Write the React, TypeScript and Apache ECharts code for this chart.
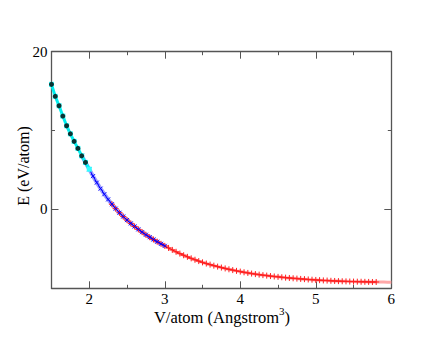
import React, { useEffect, useRef } from "react";
import * as echarts from "echarts";

const volume = [
  1.5, 1.55, 1.6, 1.65, 1.7, 1.75, 1.8, 1.85, 1.9, 1.95,
  2.0, 2.05, 2.1, 2.15, 2.2, 2.25, 2.3, 2.35, 2.4, 2.45,
  2.5, 2.55, 2.6, 2.65, 2.7, 2.75, 2.8, 2.85, 2.9, 2.95,
  3.0, 3.05, 3.1, 3.15, 3.2, 3.25, 3.3, 3.35, 3.4, 3.45,
  3.5, 3.55, 3.6, 3.65, 3.7, 3.75, 3.8, 3.85, 3.9, 3.95,
  4.0, 4.05, 4.1, 4.15, 4.2, 4.25, 4.3, 4.35, 4.4, 4.45,
  4.5, 4.55, 4.6, 4.65, 4.7, 4.75, 4.8, 4.85, 4.9, 4.95,
  5.0, 5.05, 5.1, 5.15, 5.2, 5.25, 5.3, 5.35, 5.4, 5.45,
  5.5, 5.55, 5.6, 5.65, 5.7, 5.75, 5.8, 5.85, 5.9, 5.95, 6.0,
];
const energy = [
  15.86, 14.34, 13.15, 11.84, 10.61, 9.59, 8.63, 7.74, 6.8, 5.96,
  5.1, 4.22, 3.4, 2.64, 1.93, 1.27, 0.66, 0.1, -0.42, -0.9,
  -1.35, -1.77, -2.16, -2.53, -2.88, -3.21, -3.52, -3.81, -4.09, -4.36,
  -4.62, -4.88, -5.13, -5.37, -5.6, -5.81, -6.01, -6.2, -6.38, -6.55,
  -6.71, -6.86, -7.0, -7.13, -7.25, -7.37, -7.48, -7.59, -7.69, -7.79,
  -7.88, -7.97, -8.05, -8.13, -8.2, -8.27, -8.33, -8.39, -8.45, -8.5,
  -8.55, -8.6, -8.65, -8.69, -8.73, -8.77, -8.81, -8.84, -8.88, -8.91,
  -8.94, -8.97, -9.0, -9.02, -9.05, -9.07, -9.09, -9.11, -9.12, -9.14,
  -9.15, -9.16, -9.17, -9.18, -9.19, -9.2, -9.2, -9.21, -9.21, -9.22, -9.22,
];
// index ranges (inclusive) of each data set in the tables above
const blackRange = [0, 9];
const cyanRange = [0, 10];
const blueRange = [8, 30];
const redMarkRange = [16, 86];
const pinkRange = [16, 90];

const xMajor = [2, 3, 4, 5, 6];
const xMinor = [2.5, 3.5, 4.5, 5.5];
const yMajor = [0, 20];
const yMinor = [-10, 10];

const pts = (r: number[]) =>
  volume.slice(r[0], r[1] + 1).map((v, i) => [v, energy[r[0] + i]]);

const FONT = "Liberation Serif";
const AX = "#555";

export default function App() {
  const ref = useRef<HTMLDivElement>(null);
  useEffect(() => {
    const chart = echarts.init(ref.current!, null, { renderer: "svg" });
    const base = { min: 1.5, max: 6, type: "value" as const, splitLine: { show: false } };
    const ybase = { min: -10, max: 20, type: "value" as const, splitLine: { show: false } };
    const line = { show: true, onZero: false, lineStyle: { color: AX, width: 1.3 } };
    const noLine = { show: false, onZero: false };
    const mk = (vals: number[], len: number) => ({
      show: true, inside: true, length: len, customValues: vals, lineStyle: { color: AX, width: 1 },
    });
    chart.setOption({
      animation: false,
      backgroundColor: "#fff",
      grid: { left: 51.5, right: 48.7, top: 51.7, bottom: 51.7 },
      xAxis: [
        {
          ...base, position: "bottom", axisLine: line, axisTick: mk(xMajor, 7),
          axisLabel: { customValues: xMajor, fontFamily: FONT, fontSize: 15, color: "#000", margin: 3 },
        },
        { ...base, position: "bottom", axisLine: noLine, axisTick: mk(xMinor, 3.5), axisLabel: { show: false } },
        { ...base, position: "top", axisLine: line, axisTick: mk(xMajor, 7), axisLabel: { show: false } },
        { ...base, position: "top", axisLine: noLine, axisTick: mk(xMinor, 3.5), axisLabel: { show: false } },
      ],
      yAxis: [
        {
          ...ybase, position: "left", axisLine: line, axisTick: mk(yMajor, 7),
          axisLabel: { customValues: yMajor, fontFamily: FONT, fontSize: 15, color: "#000", margin: 4 },
        },
        { ...ybase, position: "left", axisLine: noLine, axisTick: mk(yMinor, 3.5), axisLabel: { show: false } },
        { ...ybase, position: "right", axisLine: line, axisTick: mk(yMajor, 7), axisLabel: { show: false } },
        { ...ybase, position: "right", axisLine: noLine, axisTick: mk(yMinor, 3.5), axisLabel: { show: false } },
      ],
      graphic: [
        {
          type: "text", x: 222, y: 317,
          style: {
            text: "{a|V/atom (Angstrom}{s|3}{a|)}",
            align: "center", verticalAlign: "middle",
            rich: {
              a: { fontFamily: FONT, fontSize: 16.5, fill: "#000" },
              s: { fontFamily: FONT, fontSize: 11, fill: "#000", padding: [0, 0, 12, 0] },
            },
          },
        },
        {
          type: "text", x: 23, y: 166, rotation: Math.PI / 2,
          style: {
            text: "E (eV/atom)", align: "center", verticalAlign: "middle",
            fontFamily: FONT, fontSize: 16, fill: "#000",
          },
        },
      ],
      series: [
        {
          type: "line", data: pts(pinkRange), showSymbol: false,
          lineStyle: { color: "#ffa8a8", width: 3 }, z: 2,
        },
        {
          type: "line", data: pts(blueRange), showSymbol: false,
          lineStyle: { color: "#a0a0ff", width: 4 }, z: 3,
        },
        {
          type: "line", data: pts(redMarkRange), symbol: "path://M0,5L10,5M5,0L5,10", symbolSize: 6,
          itemStyle: { color: "#ff2020", borderColor: "#ff2020", borderWidth: 1 },
          lineStyle: { color: "#ff0000", width: 1 }, z: 4,
        },
        {
          type: "line", data: pts(blueRange), symbol: "path://M0,0L10,10M10,0L0,10", symbolSize: 4,
          itemStyle: { color: "#0000ff", borderColor: "#0000ff", borderWidth: 1 },
          lineStyle: { color: "#0000ff", width: 1 }, z: 5,
        },
        {
          type: "line", data: pts(cyanRange), symbol: "rect", symbolSize: 5,
          itemStyle: { color: "#30ffff" },
          lineStyle: { color: "#00f0f0", width: 3 }, z: 6,
        },
        {
          type: "scatter", data: pts(blackRange), symbol: "circle", symbolSize: 5,
          itemStyle: { color: "#000" }, z: 7,
        },
      ],
    });
    return () => chart.dispose();
  }, []);
  return (
    <div
      ref={ref}
      style={{ position: "fixed", left: 0, top: 0, width: 440, height: 340 }}
    />
  );
}
